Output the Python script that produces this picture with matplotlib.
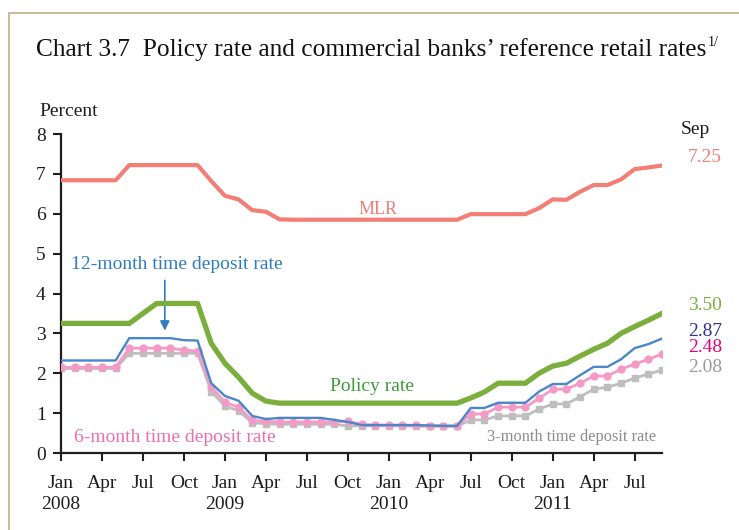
import matplotlib
matplotlib.use("Agg")
import matplotlib.pyplot as plt
from matplotlib.lines import Line2D
import numpy as np

plt.rcParams['font.family'] = ['Liberation Serif', 'DejaVu Serif']

# Monthly data Jan 2008 .. Sep 2011 (45 months)
months = list(range(45))
mlr = [6.84, 6.84, 6.84, 6.84, 6.84, 7.22, 7.22, 7.22, 7.22, 7.22, 7.22,
       6.82, 6.45, 6.36, 6.09, 6.05, 5.86, 5.85, 5.85, 5.85, 5.85, 5.85,
       5.85, 5.85, 5.85, 5.85, 5.85, 5.85, 5.85, 5.85, 5.99, 5.99, 5.99,
       5.99, 5.99, 6.14, 6.36, 6.35, 6.55, 6.72, 6.72, 6.86, 7.12, 7.16, 7.21]
policy = [3.25, 3.25, 3.25, 3.25, 3.25, 3.25, 3.50, 3.75, 3.75, 3.75, 3.75,
          2.75, 2.25, 1.90, 1.50, 1.30, 1.25, 1.25, 1.25, 1.25, 1.25, 1.25,
          1.25, 1.25, 1.25, 1.25, 1.25, 1.25, 1.25, 1.25, 1.38, 1.53, 1.75,
          1.75, 1.75, 2.00, 2.18, 2.25, 2.43, 2.60, 2.75, 3.00, 3.17, 3.33, 3.50]
dep12 = [2.32, 2.32, 2.32, 2.32, 2.32, 2.88, 2.88, 2.88, 2.88, 2.83, 2.82,
         1.75, 1.43, 1.31, 0.93, 0.85, 0.88, 0.88, 0.88, 0.88, 0.83, 0.78,
         0.70, 0.70, 0.70, 0.70, 0.70, 0.69, 0.68, 0.68, 1.13, 1.13, 1.26,
         1.26, 1.26, 1.54, 1.73, 1.73, 1.95, 2.16, 2.16, 2.35, 2.63, 2.73, 2.87]
dep6 = [2.15, 2.15, 2.15, 2.15, 2.15, 2.63, 2.63, 2.63, 2.63, 2.58, 2.56,
        1.66, 1.27, 1.15, 0.82, 0.79, 0.78, 0.78, 0.78, 0.78, 0.78, 0.80,
        0.72, 0.70, 0.70, 0.70, 0.69, 0.68, 0.68, 0.68, 0.98, 0.98, 1.15,
        1.15, 1.15, 1.37, 1.60, 1.60, 1.75, 1.93, 1.93, 2.10, 2.23, 2.35, 2.48]
dep3 = [2.12, 2.12, 2.12, 2.12, 2.12, 2.50, 2.50, 2.50, 2.50, 2.50, 2.50,
        1.54, 1.18, 1.06, 0.76, 0.73, 0.72, 0.72, 0.72, 0.72, 0.72, 0.68,
        0.68, 0.68, 0.68, 0.68, 0.67, 0.67, 0.67, 0.67, 0.83, 0.83, 0.93,
        0.93, 0.93, 1.10, 1.23, 1.23, 1.41, 1.60, 1.65, 1.75, 1.88, 1.98, 2.08]

tick_pos = list(range(0, 45, 3))
tick_labels = ["Jan\n2008", "Apr", "Jul", "Oct",
               "Jan\n2009", "Apr", "Jul", "Oct",
               "Jan\n2010", "Apr", "Jul", "Oct",
               "Jan\n2011", "Apr", "Jul"]

c_mlr = '#F27E76'
c_pol = '#7BAE3C'
c_12 = '#4A87CA'
c_6 = '#F49AC6'
c_3 = '#BEBEBE'
dark = '#1E1E1E'

fig = plt.figure(figsize=(7.39, 5.30), dpi=100)
ax = fig.add_axes([61/739, 77/530, 601/739, 319/530])

ax.plot(months, dep3, color=c_3, lw=2.0, marker='s', ms=4.5, mec=c_3, mfc=c_3, zorder=2)
ax.plot(months, dep6, color=c_6, lw=2.0, marker='o', ms=5, mec=c_6, mfc=c_6, zorder=3)
ax.plot(months, dep12, color=c_12, lw=1.7, zorder=4)
ax.plot(months, policy, color=c_pol, lw=3.8, zorder=5, solid_joinstyle='round')
ax.plot(months, mlr, color=c_mlr, lw=3.0, zorder=5)

ax.set_xlim(0, 44)
ax.set_ylim(0, 8)
ax.set_yticks(range(0, 9))
ax.set_xticks(tick_pos)
ax.set_xticklabels(tick_labels, fontsize=14, linespacing=1.3, va='top')
ax.tick_params(axis='x', direction='out', length=6, width=1.5, pad=10, colors=dark, labelcolor=dark)
ax.tick_params(axis='y', direction='out', length=6, width=1.5, pad=5, labelsize=14, colors=dark)
for s in ['top', 'right']:
    ax.spines[s].set_visible(False)
for s in ['left', 'bottom']:
    ax.spines[s].set_linewidth(1.6)
    ax.spines[s].set_color(dark)
ax.spines['bottom'].set_zorder(6)

# annotations
ax.text(23.2, 6.1, "MLR", color=c_mlr, fontsize=13, ha='center', va='center')
ax.text(22.8, 1.66, "Policy rate", color='#3E9A3A', fontsize=14, ha='center', va='center')
ax.text(8.5, 4.72, "12-month time deposit rate", color='#2F7DC0', fontsize=14, ha='center', va='center')
ax.text(8.3, 0.4, "6-month time deposit rate", color='#EC6FB0', fontsize=14, ha='center', va='center')
ax.text(37.4, 0.4, "3-month time deposit rate", color='#8C8C8C', fontsize=11.8, ha='center', va='center')
ax.annotate("", xy=(7.6, 3.0), xytext=(7.6, 4.4),
            arrowprops=dict(arrowstyle='-|>', color='#2F7DC0', lw=1.2, mutation_scale=14))

# end labels
fig.text(705/739, 1 - 158/530, "7.25", color=c_mlr, fontsize=14, ha='center', va='center')
fig.text(705/739, 1 - 305/530, "3.50", color='#7BAE3C', fontsize=14, ha='center', va='center')
fig.text(705/739, 1 - 331/530, "2.87", color='#2E3192', fontsize=14, ha='center', va='center')
fig.text(705/739, 1 - 348/530, "2.48", color='#E6007E', fontsize=14, ha='center', va='center')
fig.text(705/739, 1 - 368/530, "2.08", color='#9A9A9A', fontsize=14, ha='center', va='center')
fig.text(695/739, 1 - 130/530, "Sep", color=dark, fontsize=14, ha='center', va='center')
fig.text(39/739, 1 - 112/530, "Percent", color=dark, fontsize=14, ha='left', va='center')

# title
t = fig.text(36/739, 1 - 50/530, "Chart 3.7  Policy rate and commercial banks\u2019 reference retail rates",
             color='#111111', fontsize=18.3, ha='left', va='center')
fig.canvas.draw()
bb = t.get_window_extent(renderer=fig.canvas.get_renderer())
fig.text(bb.x1 / fig.bbox.width + 1/739, 1 - 42/530, "1/", color='#111111', fontsize=10,
         ha='left', va='center')

# frame lines
fig.add_artist(Line2D([9/739, 9/739], [0, 1 - 13/530], transform=fig.transFigure, color='#C9BC9C', lw=1.5))
fig.add_artist(Line2D([9/739, 1], [1 - 13/530, 1 - 13/530], transform=fig.transFigure, color='#C9BC9C', lw=1.5))

fig.savefig("out.png", dpi=100)
